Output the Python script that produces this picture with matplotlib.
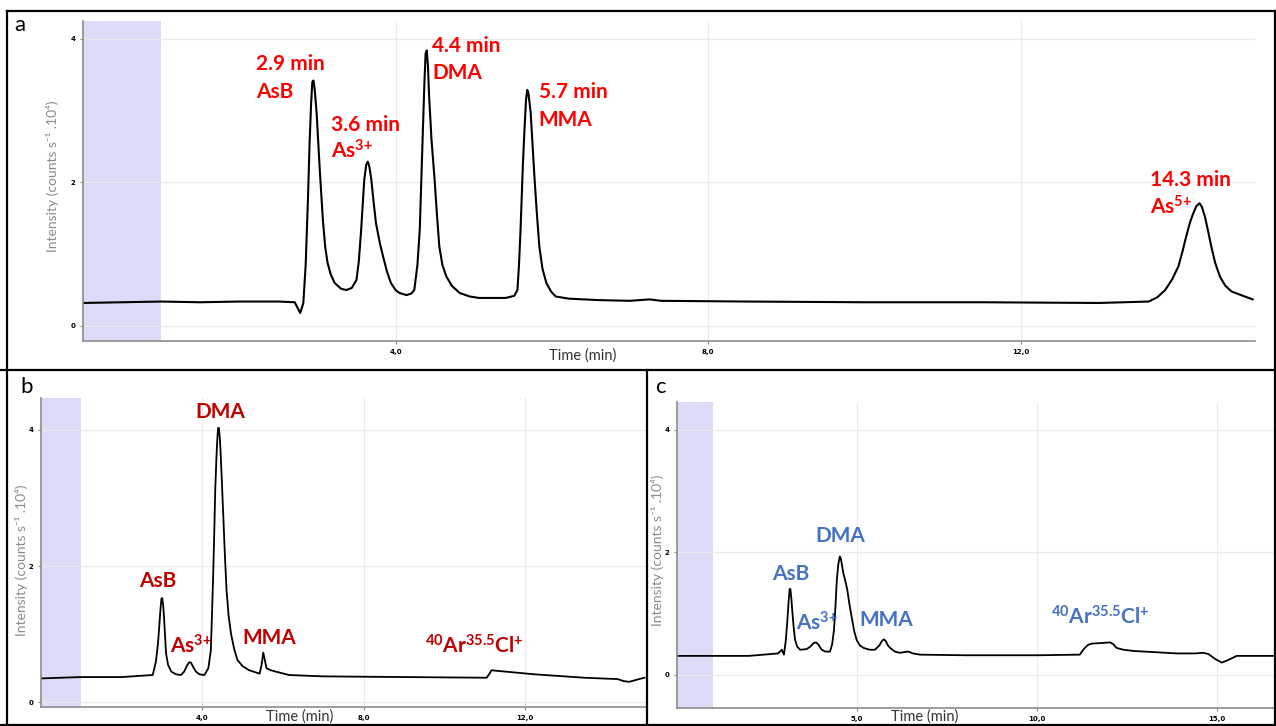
import matplotlib.pyplot as plt
from matplotlib.lines import Line2D

plt.rcParams['mathtext.fontset'] = 'custom'
plt.rcParams['mathtext.rm'] = 'Lato:bold'
plt.rcParams['mathtext.it'] = 'Lato:bold'
plt.rcParams['mathtext.bf'] = 'Lato:bold'

# chromatogram a (standard mix)
time_a = [0.0, 0.5, 1.0, 1.5, 2.0, 2.5, 2.71, 2.78, 2.82, 2.85, 2.88, 2.90, 2.92, 2.935,
          2.95, 2.965, 2.99, 3.03, 3.07, 3.10, 3.13, 3.17, 3.22, 3.30, 3.37, 3.44, 3.50,
          3.53, 3.56, 3.60, 3.625, 3.645, 3.665, 3.69, 3.72, 3.75, 3.80, 3.84, 3.89, 3.94,
          4.00, 4.05, 4.14, 4.20, 4.24, 4.28, 4.31, 4.35, 4.37, 4.385, 4.40, 4.415, 4.43,
          4.46, 4.50, 4.53, 4.56, 4.60, 4.65, 4.72, 4.82, 4.95, 5.07, 5.41, 5.52, 5.56,
          5.58, 5.60, 5.63, 5.65, 5.67, 5.685, 5.70, 5.73, 5.755, 5.78, 5.81, 5.84, 5.88,
          5.93, 5.99, 6.05, 6.22, 6.6, 7.0, 7.25, 7.4, 8.5, 10.0, 11.5, 13.0, 13.64, 13.75,
          13.85, 13.94, 14.02, 14.07, 14.12, 14.17, 14.21, 14.25, 14.29, 14.32, 14.36,
          14.40, 14.44, 14.49, 14.55, 14.62, 14.70, 14.87, 14.97]
inten_a = [0.32, 0.33, 0.34, 0.33, 0.34, 0.34, 0.33, 0.18, 0.32, 0.85, 1.80, 2.55, 3.11, 3.40,
           3.42, 3.30, 2.97, 2.18, 1.48, 1.10, 0.88, 0.72, 0.60, 0.52, 0.50, 0.53, 0.64,
           0.90, 1.34, 2.04, 2.25, 2.29, 2.22, 2.04, 1.72, 1.43, 1.15, 0.97, 0.76, 0.60,
           0.50, 0.46, 0.43, 0.45, 0.50, 0.85, 1.34, 2.73, 3.40, 3.80, 3.84, 3.62, 3.20,
           2.60, 2.04, 1.55, 1.11, 0.85, 0.69, 0.56, 0.46, 0.41, 0.39, 0.39, 0.42, 0.50,
           0.85, 1.34, 2.25, 2.73, 3.15, 3.29, 3.25, 2.97, 2.50, 2.04, 1.55, 1.11, 0.80,
           0.60, 0.48, 0.41, 0.38, 0.36, 0.35, 0.37, 0.35, 0.34, 0.33, 0.33, 0.32, 0.34, 0.40,
           0.50, 0.65, 0.83, 1.03, 1.25, 1.45, 1.57, 1.67, 1.71, 1.66, 1.52,
           1.32, 1.11, 0.88, 0.69, 0.56, 0.48, 0.41, 0.37]

# chromatogram b
time_b = [0.0, 1.0, 2.0, 2.77, 2.85, 2.90, 2.93, 2.96, 2.985, 3.005, 3.03, 3.05, 3.075, 3.10,
          3.15, 3.23, 3.35, 3.47, 3.55, 3.62, 3.68, 3.72, 3.78, 3.84, 3.93, 4.05, 4.15,
          4.21, 4.24, 4.27, 4.30, 4.32, 4.35, 4.37, 4.39, 4.41, 4.43, 4.45, 4.48, 4.52,
          4.56, 4.60, 4.65, 4.71, 4.79, 4.87, 5.00, 5.16, 5.42, 5.47, 5.51, 5.55, 5.59,
          5.70, 5.82, 6.15, 7.0, 9.0, 11.05, 11.12, 11.17, 11.33, 12.24, 13.47, 14.30,
          14.45, 14.58, 14.83, 14.96]
inten_b = [0.35, 0.37, 0.37, 0.40, 0.60, 0.86, 1.10, 1.35, 1.52, 1.53, 1.42, 1.25, 0.98, 0.72,
           0.55, 0.45, 0.41, 0.40, 0.45, 0.54, 0.59, 0.58, 0.51, 0.45, 0.41, 0.40, 0.50,
           0.76, 1.30, 1.89, 2.60, 3.12, 3.60, 3.85, 4.03, 4.03, 3.90, 3.71, 3.30, 2.73,
           2.15, 1.65, 1.28, 1.01, 0.78, 0.62, 0.53, 0.47, 0.42, 0.55, 0.73, 0.62, 0.50,
           0.47, 0.45, 0.40, 0.38, 0.37, 0.36, 0.42, 0.47, 0.46, 0.41, 0.36, 0.34,
           0.31, 0.30, 0.34, 0.36]

# chromatogram c
time_c = [0.0, 1.0, 2.0, 2.81, 2.91, 2.97, 3.02, 3.06, 3.10, 3.13, 3.15, 3.18, 3.20, 3.24,
          3.28, 3.34, 3.42, 3.60, 3.70, 3.80, 3.86, 3.92, 4.02, 4.12, 4.25, 4.31, 4.36,
          4.40, 4.44, 4.48, 4.52, 4.55, 4.62, 4.68, 4.73, 4.79, 4.85, 4.92, 4.99, 5.08,
          5.18, 5.35, 5.50, 5.62, 5.70, 5.75, 5.80, 5.86, 5.92, 6.05, 6.19, 6.30, 6.43,
          6.55, 6.75, 8.0, 10.0, 11.19, 11.27, 11.33, 11.42, 11.52, 11.80, 12.03, 12.12,
          12.21, 12.40, 12.68, 13.30, 13.88, 14.40, 14.62, 14.76, 14.95, 15.13, 15.30,
          15.55, 16.0, 16.64]
inten_c = [0.31, 0.31, 0.31, 0.35, 0.41, 0.33, 0.55, 0.84, 1.20, 1.40, 1.40, 1.22, 1.06, 0.78,
           0.57, 0.46, 0.41, 0.42, 0.46, 0.52, 0.53, 0.50, 0.41, 0.38, 0.38, 0.50, 0.73,
           1.10, 1.55, 1.80, 1.93, 1.90, 1.66, 1.52, 1.39, 1.15, 0.95, 0.72, 0.57, 0.48,
           0.44, 0.41, 0.41, 0.48, 0.56, 0.58, 0.55, 0.48, 0.44, 0.38, 0.36, 0.37, 0.38,
           0.35, 0.33, 0.32, 0.32, 0.33, 0.40, 0.44, 0.49, 0.51, 0.52, 0.53, 0.50,
           0.44, 0.41, 0.39, 0.37, 0.35, 0.35, 0.36, 0.34, 0.26, 0.20, 0.24,
           0.31, 0.31, 0.31]

rt_a = ["2.9 min", "3.6 min", "4.4 min", "5.7 min", "14.3 min"]
species_a = ["AsB", "As$^{3{+}}$", "DMA", "MMA", "As$^{5{+}}$"]
species_bc = ["AsB", "As$^{3{+}}$", "DMA", "MMA", "$^{40}$Ar$^{35.5}$Cl$^{{+}}$"]

W, H = 1276, 726
fig = plt.figure(figsize=(W / 100, H / 100), dpi=100)


def box(x0, y0, x1, y1):
    # pixel box -> figure fraction [left, bottom, width, height]
    return [x0 / W, 1 - y1 / H, (x1 - x0) / W, (y1 - y0) / H]


def style(ax, xlim, ylim, xt, xtl):
    ax.set_xlim(xlim)
    ax.set_ylim(ylim)
    ax.set_xticks(xt, xtl)
    ax.set_yticks([0, 2, 4], ['0', '2', '4'])
    for s in ['top', 'right']:
        ax.spines[s].set_visible(False)
    for s in ['left', 'bottom']:
        ax.spines[s].set_color('#8c8c8c')
        ax.spines[s].set_linewidth(1.2)
    ax.grid(color='#ebebeb', linewidth=0.8)
    ax.set_axisbelow(True)
    ax.tick_params(length=2.5, width=0.8, color='#8c8c8c', labelsize=5, pad=3)
    for lab in ax.get_xticklabels() + ax.get_yticklabels():
        lab.set_fontweight('bold')
    ax.axvspan(0, 1, color='#dcdcf8', lw=0, zorder=0.5)


ylab = "Intensity (counts s⁻¹ .10⁴)"
fam = ['Lato', 'DejaVu Sans']

# panel a
ax_a = fig.add_axes(box(83, 21, 1255, 341))
style(ax_a, (0, 15), (-0.21, 4.25), [4, 8, 12], ['4,0', '8,0', '12,0'])
ax_a.plot(time_a, inten_a, color='black', lw=1.5)
pos_a = [(2.22, 3.57, 3.18), (3.17, 2.72, 2.33), (4.47, 3.82, 3.44),
         (5.83, 3.17, 2.78), (13.65, 1.95, 1.56)]
for (t, y1, y2), rt, sp in zip(pos_a, rt_a, species_a):
    ax_a.text(t, y1, rt, color='#ff0000', fontsize=15, fontweight='bold', family='Lato', va='baseline')
    ax_a.text(t, y2, sp, color='#ff0000', fontsize=15, fontweight='bold', family='Lato', va='baseline')

# panel b
ax_b = fig.add_axes(box(41, 398, 646, 707))
style(ax_b, (0, 15), (-0.07, 4.47), [4, 8, 12], ['4,0', '8,0', '12,0'])
ax_b.plot(time_b, inten_b, color='black', lw=1.3)
pos_b = [(2.89, 1.69), (3.73, 0.72), (4.44, 4.17), (5.65, 0.86), (10.75, 0.72)]
for (t, y), sp in zip(pos_b, species_bc):
    ax_b.text(t, y, sp, color='#c00000', fontsize=15, fontweight='bold', family='Lato',
              ha='center', va='baseline')

# panel c
ax_c = fig.add_axes(box(677, 402, 1274.6, 708))
style(ax_c, (0, 16.6), (-0.54, 4.45), [5, 10, 15], ['5,0', '10,0', '15,0'])
ax_c.plot(time_c, inten_c, color='black', lw=1.3)
pos_c = [(3.17, 1.55), (3.89, 0.73), (4.53, 2.17), (5.82, 0.80), (11.77, 0.82)]
for (t, y), sp in zip(pos_c, species_bc):
    ax_c.text(t, y, sp, color='#4472c4', fontsize=15, fontweight='bold', family='Lato',
              ha='center', va='baseline')

# axis titles
for x, y in [(53, 176), (22, 560), (658, 550)]:
    fig.text(x / W, 1 - y / H, ylab, rotation=90, color='#8c8c8c', fontsize=10,
             family=fam, ha='center', va='center')
for x, y in [(583, 356), (300, 717), (925, 717)]:
    fig.text(x / W, 1 - y / H, "Time (min)", color='#333333', fontsize=10.5,
             family=fam, ha='center', va='center')

# panel letters
for x, y, s in [(20, 25, 'a'), (27, 387, 'b'), (660, 387, 'c')]:
    fig.text(x / W, 1 - y / H, s, fontsize=16, family='Lato', ha='center', va='center')

# panel frames
frames = [((7, 1276), (11, 11)), ((7, 7), (11, 726)), ((0, 1276), (370, 370)),
          ((647, 647), (370, 726)), ((0, 1276), (725, 725)), ((1275, 1275), (11, 726))]
for xs, ys in frames:
    fig.add_artist(Line2D([x / W for x in xs], [1 - y / H for y in ys],
                          color='black', lw=1.6, transform=fig.transFigure))

fig.savefig('out.png', dpi=100)
